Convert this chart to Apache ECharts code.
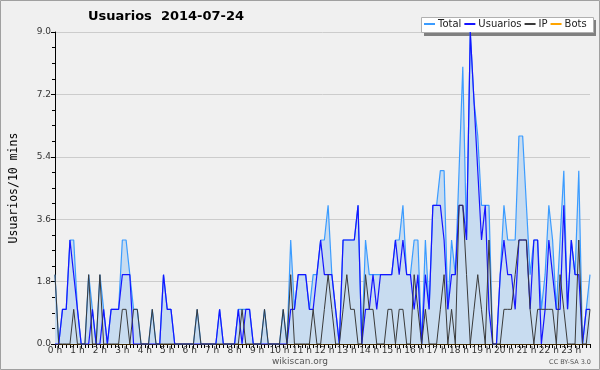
<!DOCTYPE html>
<html>
<head>
<meta charset="utf-8">
<script src="https://cdn.jsdelivr.net/npm/echarts@6/dist/echarts.min.js"></script>
<style>
html,body{margin:0;padding:0;background:#f0f0f0;}
#c{width:600px;height:370px;}
</style>
</head>
<body>
<div id="c"></div>
<script>
const hourLabels = ['0 h','1 h','2 h','3 h','4 h','5 h','6 h','7 h','8 h','9 h','10 h','11 h','12 h','13 h','14 h','15 h','16 h','17 h','18 h','19 h','20 h','21 h','22 h','23 h'];
const minuteSlots = ['00','10','20','30','40','50'];
const yTicks = [0, 1.8, 3.6, 5.4, 7.2, 9.0];

const total = [
 2,0,1,1,3,3, 1,0,0,2,1,0, 2,1,0,1,1,1, 3,3,2,1,1,0,
 0,0,1,0,0,2, 1,1,0,0,0,0, 0,0,1,0,0,0, 0,0,1,0,0,0,
 0,1,1,1,1,0, 0,0,1,0,0,0, 0,1,0,3,1,2, 2,2,1,2,2,3,
 3,4,2,1,0,3, 3,3,3,4,0,3, 2,2,2,2,2,2, 2,3,3,4,2,2,
 3,3,0,3,1,4, 4,5,5,1,3,2, 5,8,3,9,7,6, 4,4,4,0,0,2,
 4,3,3,3,6,6, 4,2,3,3,1,2, 4,3,1,3,5,1, 3,2,5,0,1,2
];
const usuarios = [
 0,0,1,1,3,2, 1,0,0,0,1,0, 0,1,0,1,1,1, 2,2,2,0,0,0,
 0,0,0,0,0,2, 1,1,0,0,0,0, 0,0,0,0,0,0, 0,0,1,0,0,0,
 0,1,0,1,1,0, 0,0,0,0,0,0, 0,0,0,1,1,2, 2,2,1,1,2,3,
 2,2,2,1,0,3, 3,3,3,4,0,1, 1,2,1,2,2,2, 2,3,2,3,2,2,
 1,2,0,2,1,4, 4,4,3,1,2,2, 4,4,3,9,7,5, 3,4,1,0,0,2,
 3,2,2,1,3,3, 3,1,3,3,0,1, 3,2,1,1,4,1, 3,2,2,0,1,1
];
const ip = [
 2,0,0,0,0,1, 0,0,0,2,0,0, 2,0,0,0,0,0, 1,1,0,1,1,0,
 0,0,1,0,0,0, 0,0,0,0,0,0, 0,0,1,0,0,0, 0,0,0,0,0,0,
 0,0,1,0,0,0, 0,0,1,0,0,0, 0,1,0,2,0,0, 0,0,0,1,0,0,
 1,2,1,0,0,1, 2,1,1,0,0,2, 1,1,0,0,0,1, 1,0,1,1,0,0,
 2,1,0,1,0,0, 0,1,2,0,1,0, 4,4,2,0,1,2, 1,0,3,0,0,0,
 1,1,1,2,3,3, 3,1,0,1,1,1, 1,1,0,2,1,0, 0,0,3,0,0,1
];
const bots = [
 0,0,0,0,0,0, 0,0,0,0,0,0, 0,0,0,0,0,0, 0,0,0,0,0,0,
 0,0,0,0,0,0, 0,0,0,0,0,0, 0,0,0,0,0,0, 0,0,0,0,0,0,
 0,0,0,0,0,0, 0,0,0,0,0,0, 0,0,0,0,0,0, 0,0,0,0,0,0,
 0,0,0,0,0,0, 0,0,0,0,0,0, 0,0,0,0,0,0, 0,0,0,0,0,0,
 0,0,0,0,0,0, 0,0,0,0,0,0, 0,0,0,0,0,0, 0,0,0,0,0,0,
 0,0,0,0,0,0, 0,0,0,0,0,0, 0,0,0,0,0,0, 0,0,0,0,0,0
];

const categories = [];
hourLabels.forEach(h => minuteSlots.forEach(m => categories.push(h + m)));

const chart = echarts.init(document.getElementById('c'), null, {renderer: 'canvas'});
const font = 'DejaVu Sans';
chart.setOption({
  backgroundColor: '#f0f0f0',
  animation: false,
  title: {
    text: 'Usuarios  2014-07-24',
    left: 83, top: 5,
    textStyle: {fontFamily: font, fontSize: 13, fontWeight: 'bold', color: '#000'}
  },
  graphic: [
    {type: 'rect', z: -1, shape: {x: 0.5, y: 0.5, width: 599, height: 369}, style: {fill: 'none', stroke: '#a0a0a0', lineWidth: 1}},
    {type: 'rect', z: 1, shape: {x: 424, y: 20, width: 172, height: 16}, style: {fill: '#808080'}},
    {type: 'rect', z: 2, shape: {x: 421.5, y: 17.5, width: 172, height: 15}, style: {fill: '#ffffff', stroke: '#b0b0b0', lineWidth: 1}},
    {type: 'text', x: 300, y: 357, style: {text: 'wikiscan.org', fontFamily: font, fontSize: 9, fill: '#555', align: 'center'}},
    {type: 'text', x: 591, y: 359, style: {text: 'CC BY-SA 3.0', fontFamily: font, fontSize: 6.5, fill: '#555', align: 'right'}}
  ],
  legend: {
    left: 422, top: 18, z: 5,
    width: 176,
    itemWidth: 11, itemHeight: 2, itemGap: 2,
    padding: [1, 1],
    textStyle: {fontFamily: font, fontSize: 10, color: '#222', padding: [0, 0, 0, -2]},
    data: ['Total', 'Usuarios', 'IP', 'Bots']
  },
  grid: {left: 46, right: 10, top: 32, bottom: 26, containLabel: false},
  xAxis: {
    type: 'category',
    boundaryGap: false,
    data: categories,
    axisLine: {lineStyle: {color: '#000', width: 1}},
    axisTick: {show: true, interval: 0, length: 4, lineStyle: {color: '#000'}},
    axisLabel: {
      interval: 5, margin: 2,
      fontFamily: font, fontSize: 9, color: '#333',
      formatter: (v, i) => hourLabels[Math.floor(i / 6)]
    },
    splitLine: {show: false}
  },
  yAxis: {
    type: 'value',
    min: 0, max: 9, interval: 1.8,
    name: 'Usuarios/10 mins',
    nameLocation: 'middle', nameGap: 35,
    nameTextStyle: {fontFamily: 'DejaVu Sans Mono', fontSize: 11.5, color: '#000'},
    axisLine: {show: true, lineStyle: {color: '#000', width: 1}},
    axisTick: {show: true, length: 4, lineStyle: {color: '#000'}},
    minorTick: {show: true, splitNumber: 4, length: 3, lineStyle: {color: '#000'}},
    axisLabel: {fontFamily: font, fontSize: 9, color: '#333', margin: 4, formatter: v => v.toFixed(1)},
    splitLine: {show: true, lineStyle: {color: '#cccccc', width: 1}}
  },
  series: [
    {name: 'Total', type: 'line', data: total, symbol: 'none', z: 2,
     lineStyle: {color: '#3b9cff', width: 1.2}, itemStyle: {color: '#3b9cff'},
     areaStyle: {color: '#c8dcf0', opacity: 1}},
    {name: 'Usuarios', type: 'line', data: usuarios, symbol: 'none', z: 3,
     lineStyle: {color: '#1515ff', width: 1.2}, itemStyle: {color: '#1515ff'}},
    {name: 'IP', type: 'line', data: ip, symbol: 'none', z: 4,
     lineStyle: {color: '#3a3a3a', width: 1}, itemStyle: {color: '#3a3a3a'}},
    {name: 'Bots', type: 'line', data: bots, symbol: 'none', z: 1,
     lineStyle: {color: '#ffa500', width: 1}, itemStyle: {color: '#ffa500'}}
  ]
});
</script>
</body>
</html>
